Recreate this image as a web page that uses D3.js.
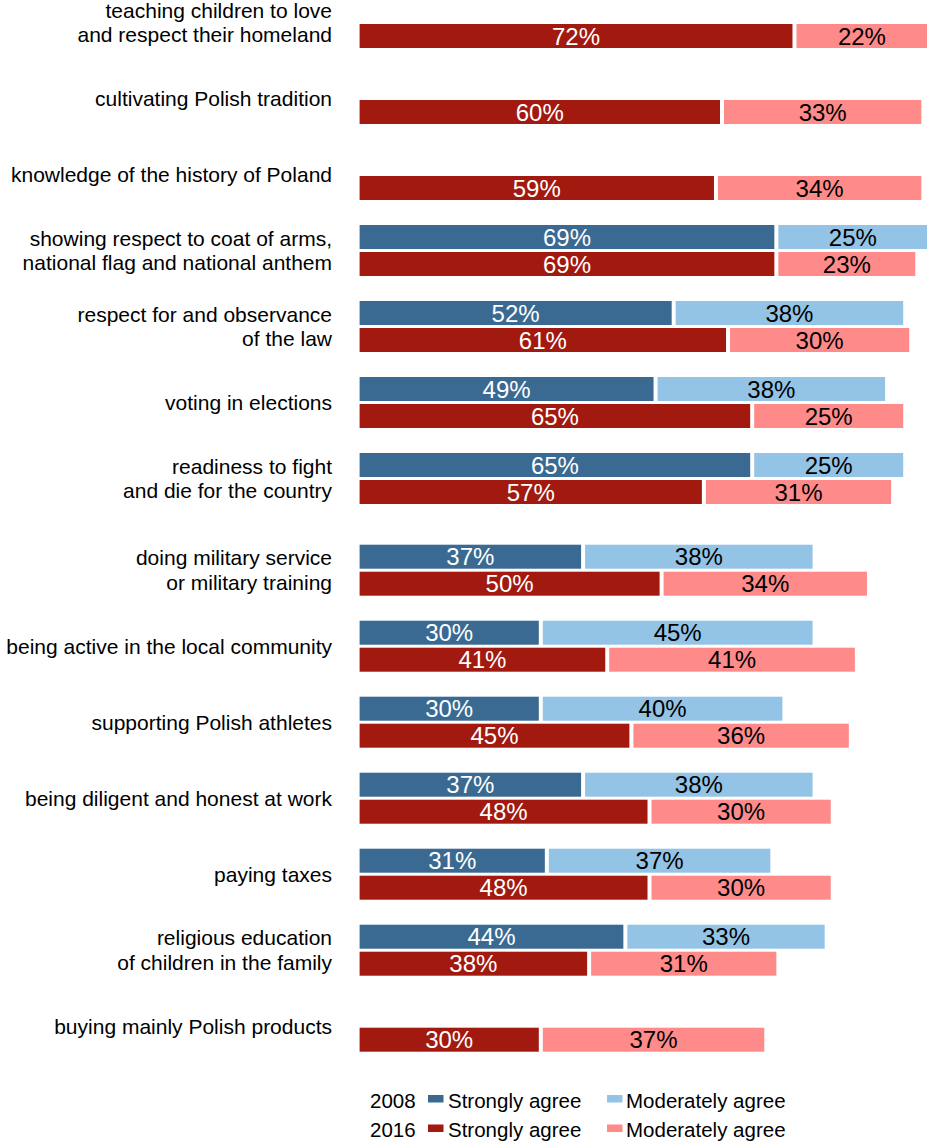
<!DOCTYPE html>
<html>
<head>
<meta charset="utf-8">
<script src="https://cdn.jsdelivr.net/npm/d3@7"></script>
<style>
  html, body { margin: 0; padding: 0; background: #fff; }
  svg { display: block; font-family: "Liberation Sans", Arial, sans-serif; }
</style>
</head>
<body>
<svg id="chart" width="927" height="1146"></svg>
<script>
// ---- data ----
const categories = [
  ["teaching children to love", "and respect their homeland"],
  ["cultivating Polish tradition"],
  ["knowledge of the history of Poland"],
  ["showing respect to coat of arms,", "national flag and national anthem"],
  ["respect for and observance", "of the law"],
  ["voting in elections"],
  ["readiness to fight", "and die for the country"],
  ["doing military service", "or military training"],
  ["being active in the local community"],
  ["supporting Polish athletes"],
  ["being diligent and honest at work"],
  ["paying taxes"],
  ["religious education", "of children in the family"],
  ["buying mainly Polish products"]
];
const strong2008   = [null, null, null, 69, 52, 49, 65, 37, 30, 30, 37, 31, 44, null];
const moderate2008 = [null, null, null, 25, 38, 38, 25, 38, 45, 40, 38, 37, 33, null];
const strong2016   = [72, 60, 59, 69, 61, 65, 57, 50, 41, 45, 48, 48, 38, 30];
const moderate2016 = [22, 33, 34, 23, 30, 25, 31, 34, 41, 36, 30, 30, 31, 37];
const years = ["2008", "2016"];
const legendLabels = ["Strongly agree", "Moderately agree"];

const colors = {
  "2008": ["#3a6a92", "#93c3e5"],
  "2016": ["#a1190f", "#ff8a8a"]
};

// ---- layout ----
const svg = d3.select("#chart");
const rowStep = 76;
const extraGap = 15.7;       // extra space after the 7th category
const gapAfter = 7;
const catKeys = categories.map((c, i) => i);

const x = d3.scaleLinear().domain([0, 100]).range([359.6, 359.6 + 604]);
const yOuter = d3.scaleBand().domain(catKeys).range([-3, -3 + rowStep * categories.length]).paddingInner(0);
const yInner = d3.scaleBand().domain(years).range([0, 51]).paddingInner(1 / 9);
const rowTop = i => yOuter(i) + (i >= gapAfter ? extraGap : 0);

// build segments
const segs = [];
catKeys.forEach(i => {
  const sets = { "2008": [strong2008[i], moderate2008[i]], "2016": [strong2016[i], moderate2016[i]] };
  years.forEach(yr => {
    const [s, m] = sets[yr];
    if (s == null) return;
    segs.push({ i, yr, k: 0, x0: x(0), x1: x(s) - 2, v: s });
    segs.push({ i, yr, k: 1, x0: x(s) + 2, x1: x(s + m), v: m });
  });
});

const g = svg.append("g");
g.selectAll("rect.seg").data(segs).join("rect")
  .attr("class", "seg")
  .attr("x", d => d.x0)
  .attr("width", d => Math.max(0, d.x1 - d.x0))
  .attr("y", d => rowTop(d.i) + yInner(d.yr))
  .attr("height", yInner.bandwidth())
  .attr("fill", d => colors[d.yr][d.k]);

g.selectAll("text.val").data(segs).join("text")
  .attr("class", "val")
  .attr("x", d => (d.x0 + d.x1) / 2)
  .attr("y", d => rowTop(d.i) + yInner(d.yr) + yInner.bandwidth() / 2)
  .attr("dy", "0.36em")
  .attr("text-anchor", "middle")
  .attr("font-size", 24)
  .attr("fill", d => d.k === 0 ? "#ffffff" : "#000000")
  .text(d => d.v + "%");

// category labels
const lineH = 24.5;
const labelFont = 21;
const groupH = 51;
const lab = svg.append("g").selectAll("text.cat").data(catKeys).join("text")
  .attr("class", "cat")
  .attr("text-anchor", "end")
  .attr("font-size", labelFont)
  .attr("fill", "#000");
lab.each(function(i) {
  const lines = categories[i];
  const center = rowTop(i) + groupH / 2;
  const first = center - (lines.length - 1) * lineH / 2 + 0.358 * labelFont;
  d3.select(this).selectAll("tspan").data(lines).join("tspan")
    .attr("x", 332)
    .attr("y", (d, j) => first + j * lineH)
    .text(d => d);
});

// legend
const legend = svg.append("g").attr("font-size", 20.5).attr("fill", "#000");
years.forEach((yr, r) => {
  const base = 1107.5 + r * 29.5;
  legend.append("text").attr("x", 370).attr("y", base).text(yr);
  const swX = [428, 607], txX = [448, 626];
  legendLabels.forEach((lbl, k) => {
    legend.append("rect").attr("x", swX[k]).attr("y", base - 12.5)
      .attr("width", 15.5).attr("height", 7.5).attr("fill", colors[yr][k]);
    legend.append("text").attr("x", txX[k]).attr("y", base).text(lbl);
  });
});
</script>
</body>
</html>
